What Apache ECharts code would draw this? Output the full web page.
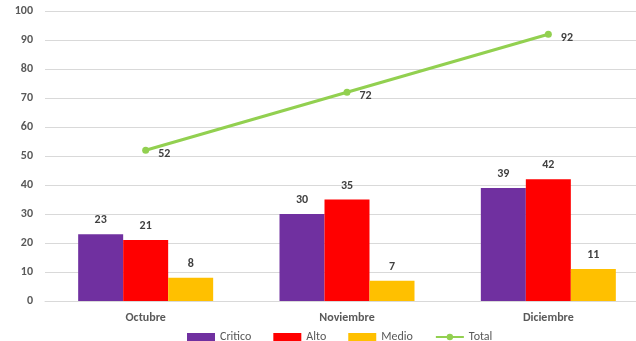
<!DOCTYPE html>
<html>
<head>
<meta charset="utf-8">
<script src="https://cdn.jsdelivr.net/npm/echarts@6/dist/echarts.min.js"></script>
<style>
  html, body { margin: 0; padding: 0; background: #fff; }
  #chart { width: 636px; height: 341px; }
</style>
</head>
<body>
<div id="chart"></div>
<script>
var months = ['Octubre', 'Noviembre', 'Diciembre'];
var critico = [23, 30, 39];
var alto = [21, 35, 42];
var medio = [8, 7, 11];
var total = [52, 72, 92];

var chart = echarts.init(document.getElementById('chart'));
var font = 'Calibri, Carlito, "Liberation Sans", "DejaVu Sans", sans-serif';
var barLabel = {
    show: true,
    position: 'top',
    distance: 8,
    color: '#404040',
    fontWeight: 'bold',
    fontSize: 12,
    fontFamily: font
};

var option = {
    animation: false,
    backgroundColor: '#fff',
    textStyle: { fontFamily: font },
    // plot area runs past the right edge of the picture (cropped like the reference)
    grid: { left: 45, top: 11, width: 604, height: 290, outerBoundsMode: 'none', containLabel: false },
    legend: {
        top: 326,
        left: 182,
        itemWidth: 28,
        itemHeight: 8,
        itemGap: 22,
        itemTextGap: 4,
        textStyle: { color: '#595959', fontSize: 12, fontFamily: font },
        data: [
            { name: 'Critico', icon: 'rect' },
            { name: 'Alto', icon: 'rect' },
            { name: 'Medio', icon: 'rect' },
            { name: 'Total' }
        ]
    },
    xAxis: {
        type: 'category',
        data: months,
        axisLine: { lineStyle: { color: '#d9d9d9' } },
        axisTick: { show: false },
        axisLabel: { color: '#595959', fontWeight: 'bold', fontSize: 12, margin: 11, fontFamily: font }
    },
    yAxis: {
        type: 'value',
        min: 0,
        max: 100,
        interval: 10,
        axisLine: { show: false },
        axisTick: { show: false },
        splitLine: { lineStyle: { color: '#d9d9d9' } },
        axisLabel: { color: '#595959', fontWeight: 'bold', fontSize: 12, margin: 12, fontFamily: font }
    },
    series: [
        {
            name: 'Critico', type: 'bar', data: critico,
            barWidth: 45, barGap: '0%',
            itemStyle: { color: '#7030A0' },
            label: barLabel
        },
        {
            name: 'Alto', type: 'bar', data: alto,
            barWidth: 45, barGap: '0%',
            itemStyle: { color: '#FF0000' },
            label: barLabel
        },
        {
            name: 'Medio', type: 'bar', data: medio,
            barWidth: 45, barGap: '0%',
            itemStyle: { color: '#FFC000' },
            label: barLabel
        },
        {
            name: 'Total', type: 'line', data: total,
            symbol: 'circle', symbolSize: 7,
            lineStyle: { color: '#92D050', width: 3 },
            itemStyle: { color: '#92D050' },
            label: {
                show: true,
                position: 'right',
                distance: 9,
                offset: [0, 4],
                color: '#404040',
                fontWeight: 'bold',
                fontSize: 12,
                fontFamily: font
            }
        }
    ]
};
chart.setOption(option);
</script>
</body>
</html>
